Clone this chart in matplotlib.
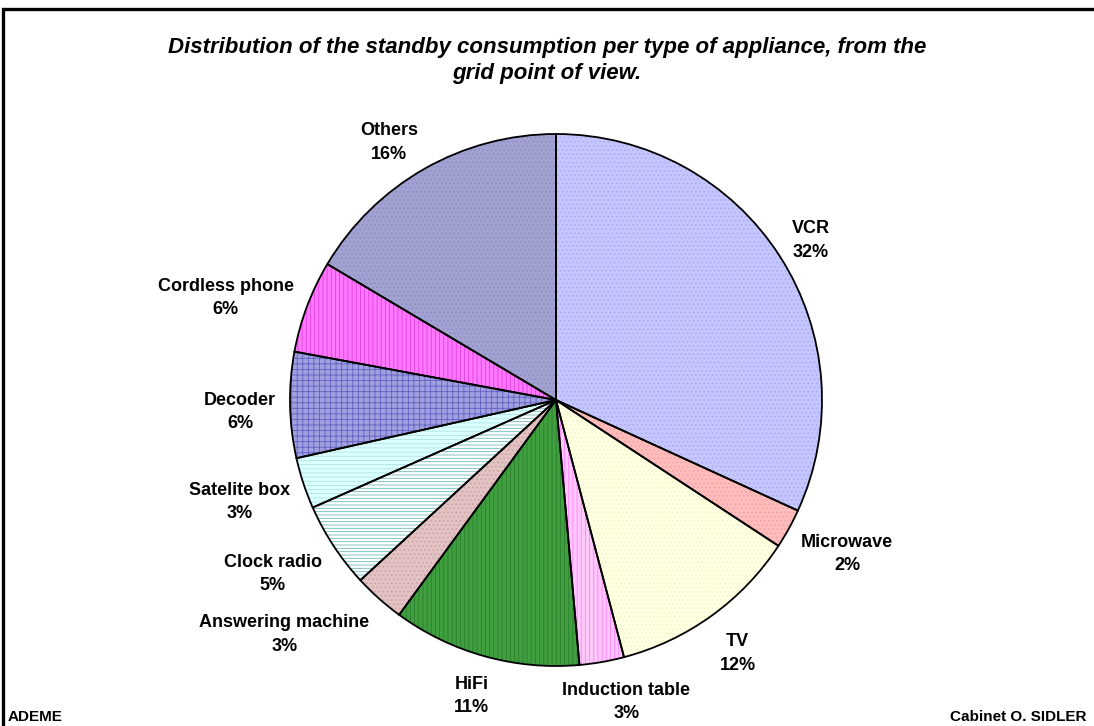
import numpy as np
import matplotlib.pyplot as plt
from matplotlib.patches import Rectangle

# Standby consumption share per appliance (clockwise from 12 o'clock)
appliances = ["VCR", "Microwave", "TV", "Induction table", "HiFi",
              "Answering machine", "Clock radio", "Satelite box", "Decoder",
              "Cordless phone", "Others"]
shares = [31.7, 2.4, 11.6, 2.7, 11.4, 3.1, 5.2, 3.1, 6.4, 5.6, 16.4]

# Fill colour, pattern colour and pattern per slice
fill_colors = ["#c6c6ff", "#ffbcbc", "#ffffe2", "#ffc8fa", "#3f9f3f", "#e2c2c2",
               "#ffffff", "#dcffff", "#a0a0e0", "#ff78ff", "#a2a2d2"]
hatch_colors = ["#a8a8f4", "#f8a0a0", "#f4f4c8", "#ff80ff", "#2e7e2e", "#c8a0a0",
                "#70b8b8", "#b0e4e4", "#6060c0", "#e040e0", "#8c8cc0"]
hatches = ["....", "....", "....", "||||", "||||", "....",
           "-----", "----", "+++", "||||", "...."]

plt.rcParams["font.family"] = ["Liberation Sans", "DejaVu Sans"]
plt.rcParams["hatch.linewidth"] = 0.6

fig = plt.figure(figsize=(10.94, 7.26), dpi=100)
ax = fig.add_axes([0, 0, 1, 1])

pie_center = (556, 326)
pie_radius = 266

# patterned fills first, black outlines on top
fills, _ = ax.pie(shares, startangle=90, counterclock=False, center=pie_center,
                  radius=pie_radius, colors=fill_colors, frame=True,
                  wedgeprops=dict(linewidth=0))
for w, hc, h in zip(fills, hatch_colors, hatches):
    w.set_edgecolor(hc)
    w.set_hatch(h)
    w.set_linewidth(0)

outlines, _ = ax.pie(shares, startangle=90, counterclock=False, center=pie_center,
                     radius=pie_radius, frame=True,
                     wedgeprops=dict(fill=False, edgecolor="black", linewidth=1.3))
ax.set_xlim(0, 1094)
ax.set_ylim(0, 726)
ax.set_aspect("equal")
ax.axis("off")

total = sum(shares)
labels = [f"{name}\n{round(v / total * 100)}%" for name, v in zip(appliances, shares)]

# labels sit just outside the rim, pushed out by their own box size
fig.canvas.draw()
renderer = fig.canvas.get_renderer()
gap = 14
for w, lab in zip(outlines, labels):
    ang = np.deg2rad((w.theta1 + w.theta2) / 2)
    ux, uy = np.cos(ang), np.sin(ang)
    t = ax.text(0, 0, lab, ha="center", va="center", fontsize=13,
                fontweight="bold", linespacing=1.5)
    bb = t.get_window_extent(renderer)
    hw, hh = bb.width / 2, bb.height / 2
    cx = pie_center[0] + (pie_radius + gap) * ux + hw * np.clip(2 * ux, -1, 1)
    cy = pie_center[1] + (pie_radius + gap) * uy + hh * np.clip(1.3 * uy, -1, 1) - 6
    t.set_position((cx, cy))

fig.text(0.5, 1 - 47 / 726, "Distribution of the standby consumption per type of appliance, from the",
         ha="center", va="center", fontsize=16, fontweight="bold", style="italic")
fig.text(0.5, 1 - 74 / 726, "grid point of view.",
         ha="center", va="center", fontsize=16, fontweight="bold", style="italic")

fig.text(8 / 1094, 1 - 717 / 726, "ADEME", ha="left", va="center",
         fontsize=11, fontweight="bold")
fig.text(1087 / 1094, 1 - 717 / 726, "Cabinet O. SIDLER", ha="right", va="center",
         fontsize=11, fontweight="bold")

# chart frame, open past the right and bottom edges
fig.patches.append(Rectangle((3 / 1094, -0.05), 1.2, 1 - 9 / 726 + 0.05,
                             transform=fig.transFigure, fill=False,
                             edgecolor="black", linewidth=2.4))

fig.savefig("out.png", dpi=100)
